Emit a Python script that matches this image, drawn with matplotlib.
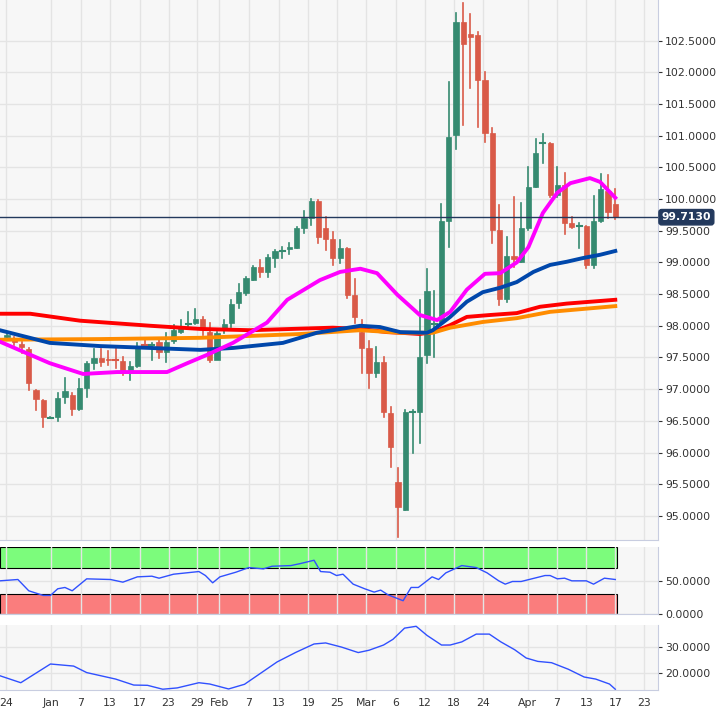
import matplotlib
matplotlib.use("Agg")
import matplotlib.pyplot as plt
from matplotlib.patches import Rectangle
from matplotlib.ticker import FormatStrFormatter

# ---------------- data ----------------
opens = [97.83,97.78,97.71,97.63,96.99,96.83,96.55,96.56,96.88,96.91,96.69,97.02,97.41,97.49,97.48,97.46,97.45,97.30,97.37,97.70,
         97.69,97.75,97.59,97.76,97.90,98.03,98.05,98.11,97.90,97.46,97.95,98.05,98.36,98.52,98.72,98.93,98.85,99.07,99.18,99.21,
         99.23,99.54,99.70,99.97,99.54,99.37,99.07,99.23,98.49,97.90,97.65,97.26,97.43,96.63,95.54,95.10,96.64,96.64,97.54,98.03,
         98.06,99.65,101.01,102.79,102.60,102.59,101.88,101.04,99.51,98.42,99.10,99.01,99.54,100.19,100.88,100.88,100.06,100.22,99.62,99.58,
         99.58,98.96,99.65,100.13,99.92]
highs = [97.90,97.83,97.75,97.65,96.99,96.83,96.56,96.94,97.18,96.94,97.16,97.43,97.63,97.63,97.60,97.65,97.51,97.43,97.73,97.78,
         97.73,97.78,97.89,98.01,98.09,98.22,98.27,98.14,98.05,97.90,98.09,98.41,98.66,98.77,98.94,99.04,99.12,99.20,99.24,99.31,
         99.56,99.81,100.00,99.99,99.72,99.48,99.35,99.23,98.74,98.09,97.76,97.67,97.51,96.72,95.76,96.67,96.67,98.41,98.90,98.55,
         99.92,101.85,102.93,103.09,102.92,102.64,102.00,101.12,99.91,99.40,100.03,99.94,100.51,100.95,101.03,100.88,100.51,100.41,99.72,99.62,
         99.58,100.05,100.40,100.38,100.16]
lows = [97.78,97.70,97.57,96.99,96.67,96.41,96.54,96.50,96.78,96.59,96.67,96.88,97.32,97.37,97.38,97.34,97.23,97.15,97.35,97.65,
        97.46,97.49,97.43,97.73,97.89,97.98,98.03,97.86,97.43,97.51,97.89,97.98,98.28,98.49,98.72,98.77,98.77,98.93,99.07,99.13,
        99.23,99.46,99.59,99.31,99.20,98.96,98.99,98.44,98.05,97.26,97.02,97.19,96.56,95.77,94.67,95.10,96.00,96.15,97.41,97.51,
        98.05,99.24,100.79,101.17,101.75,101.14,100.90,99.31,98.33,98.38,98.93,99.00,99.51,100.19,100.57,100.03,100.03,99.45,99.54,99.23,
        98.91,98.91,99.64,99.70,99.69]
closes = [97.86,97.75,97.67,97.10,96.85,96.56,96.55,96.86,96.97,96.69,97.02,97.41,97.49,97.43,97.46,97.45,97.26,97.37,97.67,97.68,
          97.70,97.59,97.75,97.93,98.00,98.04,98.11,97.97,97.46,97.89,98.03,98.35,98.53,98.75,98.93,98.85,99.09,99.18,99.18,99.24,
          99.54,99.70,99.97,99.40,99.37,99.07,99.23,98.49,98.14,97.65,97.26,97.43,96.64,96.09,95.14,96.64,96.65,97.51,98.55,98.05,
          99.65,100.98,102.79,102.45,102.56,101.88,101.04,99.51,98.42,99.10,99.05,99.54,100.19,100.73,100.88,100.06,100.22,99.62,99.56,99.58,
          98.96,99.65,100.16,99.80,99.71]
last_price = 99.7130

# moving averages (sampled points: candle index, value)
ma20_x = [-1,5.9,10.5,15.2,22.1,24.9,27.6,31.2,35.9,38.7,43.2,46,48.8,51.1,53.9,57,59.4,61.2,63.5,66,68.1,70.4,72,74,76,77.8,80.5,81.9,84]
ma20_y = [97.75,97.41,97.24,97.27,97.27,97.41,97.54,97.73,98.05,98.41,98.72,98.85,98.90,98.83,98.49,98.17,98.09,98.22,98.57,98.82,98.83,99.00,99.24,99.78,100.10,100.25,100.33,100.27,100.02]
ma50_x = [-1,5.9,12.8,19.8,26.7,31.2,38.1,42.8,48.8,51.5,54.3,58,58.8,61.2,63.5,65.7,68.1,70.4,72.7,75,77.3,79.6,81.9,84]
ma50_y = [97.93,97.73,97.68,97.65,97.62,97.65,97.73,97.89,98.00,97.98,97.90,97.89,97.93,98.14,98.38,98.53,98.60,98.69,98.85,98.96,99.01,99.07,99.12,99.18]
ma200_x = [-1,3.2,10.1,19.8,26.7,33.6,45,48.8,52.5,54.3,57,58.8,61.2,63.5,66.7,70.4,73.6,77.3,84]
ma200_y = [98.19,98.19,98.08,98.00,97.95,97.93,97.97,97.95,97.90,97.89,97.87,97.90,98.01,98.14,98.17,98.20,98.30,98.35,98.41]
ma100_x = [-1,12.8,26.7,40.5,48.8,54.3,58.8,61.2,65.7,70.4,75,84]
ma100_y = [97.78,97.79,97.81,97.87,97.93,97.89,97.89,97.97,98.06,98.12,98.22,98.31]

rsi_x = [-1,1.5,3,5,6,7,8,9,11,14.3,16,18,20,21,23,26.5,27.4,28.4,29.4,31.6,33.4,35.4,36.6,39.2,40.5,42.4,43.3,44.6,45.5,46.4,
         47.8,49.4,50.7,51.6,52.6,54.7,55.8,56.8,58.7,59.6,60.6,62.8,64.8,66.3,67.9,68.8,69.8,71,74.3,75,76,77,78,80,81,82.5,84]
rsi_y = [50,52,35,28,28,38,40,35,53,52,48,56,57,54,60,64,58,47,56,63,70,68,72,73,76,81,64,63,58,60,
         45,38,33,36,29,20,40,40,56,52,62,73,70,62,50,45,49,49,58,58,53,54,50,50,45,54,52]

adx_x = [-1,1.9,6,9.2,11,15,17.5,19.4,21.5,23.5,26.5,28,30.6,32.8,37.3,39.9,42.4,44,46.2,48.5,50,52,53.3,54.9,56.5,58,60,61.2,
         62.8,64.8,66.6,68.2,70.1,71.7,73.3,75.2,77.5,79.7,81.3,83.2,84]
adx_y = [19,16.3,23.5,22.7,20.2,17.7,15.4,15.3,13.8,14.3,16.3,15.8,13.9,15.7,24.3,28,31.2,31.6,30,27.9,28.8,30.8,33,37.3,38,34.5,30.8,30.8,
         32,35,35,32,29,25.8,24.5,24,21.5,18.5,17.7,15.8,13.8]

tick_pos = [-0.2,6.05,10.2,14.2,18.3,22.3,26.3,29.3,33.4,37.5,41.6,45.6,49.6,53.7,57.7,61.7,65.8,71.9,75.9,80,84,88]
tick_lab = ["24","Jan","7","13","17","23","29","Feb","7","13","19","25","Mar","6","12","18","24","Apr","7","13","17","23"]

# ---------------- plotting ----------------
W, H = 716, 720
fig = plt.figure(figsize=(W/100, H/100), dpi=100)
BG = "#f7f7f7"
GRID = "#e4e4e4"
SPINE = "#c8cde0"
UP, DN = "#358a70", "#d95a48"
XL = (-0.97, 89.9)
FS = 7.8

def fa(x0, y0, x1, y1):
    return fig.add_axes([x0/W, 1-y1/H, (x1-x0)/W, (y1-y0)/H])

def style(ax):
    ax.set_facecolor(BG)
    ax.set_xlim(*XL)
    ax.yaxis.tick_right()
    ax.tick_params(axis="y", labelsize=FS, colors="#333333", length=3, pad=2)
    ax.tick_params(axis="x", length=0)
    ax.set_xticks(tick_pos)
    ax.grid(True, color=GRID, lw=1)
    for s in ax.spines.values():
        s.set_color(SPINE)
    ax.spines["top"].set_visible(False)
    ax.spines["left"].set_visible(False)

ax = fa(0, 0, 658, 540)
style(ax)
ax.set_ylim(94.62, 103.14)
ax.set_yticks([95 + 0.5*k for k in range(16)])
ax.yaxis.set_major_formatter(FormatStrFormatter("%.4f"))
ax.set_xticklabels([])

for i, (o, h, l, c) in enumerate(zip(opens, highs, lows, closes)):
    col = UP if c >= o else DN
    ax.plot([i, i], [l, h], color=col, lw=1.2, zorder=3)
    bh = abs(c - o)
    if bh < 0.02:
        ax.plot([i-0.35, i+0.35], [o, o], color=col, lw=1.5, zorder=3)
    else:
        ax.add_patch(Rectangle((i-0.36, min(o, c)), 0.72, bh, facecolor=col, edgecolor=col, lw=0.5, zorder=3))

ax.plot(ma200_x, ma200_y, color="#ff0000", lw=2.8, zorder=4, solid_joinstyle="round")
ax.plot(ma100_x, ma100_y, color="#ff8c00", lw=2.8, zorder=4, solid_joinstyle="round")
ax.plot(ma50_x, ma50_y, color="#0047ab", lw=2.8, zorder=5, solid_joinstyle="round")
ax.plot(ma20_x, ma20_y, color="#ff00ff", lw=2.8, zorder=6, solid_joinstyle="round")
ax.axhline(last_price, color="#23395d", lw=1, zorder=7)
ax.text(90.4, last_price, "%.4f" % last_price, fontsize=FS, color="white", fontweight="bold",
        va="center", ha="left", zorder=8, clip_on=False,
        bbox=dict(boxstyle="round,pad=0.25", fc="#23395d", ec="#23395d"))

# RSI panel
ax2 = fa(0, 547, 658, 614)
style(ax2)
ax2.set_ylim(0, 101)
ax2.set_yticks([0, 50])
ax2.yaxis.set_major_formatter(FormatStrFormatter("%.4f"))
ax2.set_xticklabels([])
ax2.add_patch(Rectangle((XL[0], 70), 84.3 - XL[0], 31, facecolor="#7cfc7c", edgecolor="#000000", lw=0.8, zorder=1))
ax2.add_patch(Rectangle((XL[0], 0), 84.3 - XL[0], 30, facecolor="#fa7d7d", edgecolor="#000000", lw=0.8, zorder=1))
ax2.plot(rsi_x, rsi_y, color="#3050ff", lw=1, zorder=3)

# ADX panel
ax3 = fa(0, 625, 658, 690)
style(ax3)
ax3.set_ylim(13.5, 38.5)
ax3.set_yticks([20, 30])
ax3.yaxis.set_major_formatter(FormatStrFormatter("%.4f"))
ax3.set_xticklabels(tick_lab, fontsize=FS, color="#333333")
ax3.tick_params(axis="x", pad=6)
ax3.plot(adx_x, adx_y, color="#3050ff", lw=1, zorder=3)

fig.savefig("out.png", dpi=100, facecolor="white")
